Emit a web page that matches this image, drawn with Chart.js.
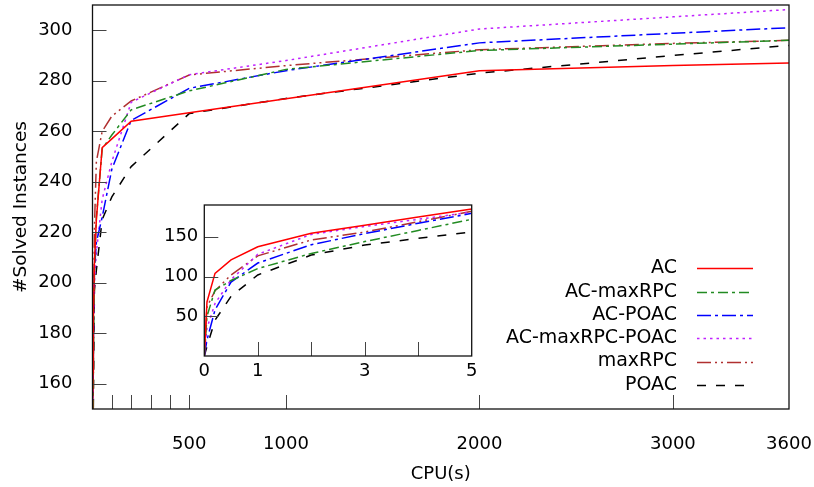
<!DOCTYPE html>
<html><head><meta charset="utf-8">
<script src="https://cdn.jsdelivr.net/npm/chart.js@4.4.1/dist/chart.umd.min.js"></script>
<style>
html,body{margin:0;padding:0;background:#fff;}
#wrap{position:relative;width:814px;height:487px;overflow:hidden;}
#main{position:absolute;left:0;top:0;}
#inset{position:absolute;left:150px;top:195px;}
</style></head><body>
<div id="wrap"><canvas id="main" width="814" height="487"></canvas><canvas id="inset" width="330" height="195"></canvas></div>
<script>
// ---- data ----
const times = [0, 0.05, 0.2, 0.5, 1, 2, 3, 4, 5, 10, 20, 50, 100, 200, 500, 1000, 2000, 3000, 3600];
const seriesNames = ['AC', 'AC-maxRPC', 'AC-POAC', 'AC-maxRPC-POAC', 'maxRPC', 'POAC'];
const AC            = [0, 68, 104, 121, 137.5, 154.5, 164.6, 175, 185, 208, 225, 253.5, 257, 264, 267.3, 272.9, 284, 286, 287];
const AC_maxRPC     = [0, 50, 83, 95, 110, 129, 144, 158, 172, 205, 226, 253, 258.5, 268.5, 276, 284.5, 292, 294.5, 296];
const AC_POAC       = [0, 20, 58, 93, 117, 140, 154, 167, 179.5, 205, 216, 226, 245, 264.3, 277, 284, 295, 298.8, 301];
const AC_maxRPC_POAC= [0, 35, 66, 96, 128, 153, 163, 172, 181, 200, 212, 233, 248, 271.5, 282.4, 288, 300.5, 305.3, 308.2];
const maxRPC        = [0, 62, 82, 102, 126, 146, 156, 169, 182, 222, 248, 260, 266, 272, 282.3, 286, 292.3, 294.8, 296];
const POAC          = [0, 12, 45, 75, 102, 127, 139.6, 148, 156, 197, 205, 225, 234, 246, 267, 273, 283, 290, 294];
const seriesValues = [AC, AC_maxRPC, AC_POAC, AC_maxRPC_POAC, maxRPC, POAC];

const mainXTicks = [100, 200, 300, 400, 500, 1000, 2000, 3000, 3600];
const mainXLabels = [500, 1000, 2000, 3000, 3600];
const mainYTicks = [160, 180, 200, 220, 240, 260, 280, 300];
const insetXTicks = [0, 1, 2, 3, 4, 5];
const insetXLabels = [0, 1, 3, 5];
const insetYTicks = [50, 100, 150];

// ---- styles ----
const colors = ['#ff0000', '#228b22', '#0000ff', '#c020ff', '#b03030', '#000000'];
const dashes = [[], [10, 4, 3, 4], [14, 4, 3, 4], [2.5, 4], [14, 4, 2, 4, 2, 4], [9, 10]];
const FONT = 'DejaVu Sans';
Chart.defaults.font.family = FONT;
Chart.defaults.color = '#000';

function makeDatasets() {
  return seriesNames.map((name, i) => ({
    label: name,
    data: times.map((t, k) => ({x: t, y: seriesValues[i][k]})),
    borderColor: colors[i],
    backgroundColor: colors[i],
    borderDash: dashes[i],
    borderWidth: 1.5,
    pointRadius: 0,
    tension: 0,
    fill: false
  }));
}

function frameAndTicks(xTicks, yTicks, xSkip, tickLen) {
  return {
    id: 'frameTicks',
    afterDatasetsDraw(chart) {
      const {ctx, chartArea: {left, right, top, bottom}, scales: {x, y}} = chart;
      ctx.save();
      ctx.strokeStyle = '#444';
      ctx.lineWidth = 1;
      ctx.setLineDash([]);
      xTicks.forEach(v => {
        if (xSkip(v)) return;
        const px = Math.round(x.getPixelForValue(v)) + 0.5;
        ctx.beginPath(); ctx.moveTo(px, bottom); ctx.lineTo(px, bottom - tickLen); ctx.stroke();
      });
      yTicks.forEach(v => {
        const py = Math.round(y.getPixelForValue(v)) + 0.5;
        ctx.beginPath(); ctx.moveTo(left, py); ctx.lineTo(left + tickLen, py); ctx.stroke();
      });
      ctx.strokeStyle = '#111';
      ctx.lineWidth = 1.3;
      ctx.strokeRect(left, top, right - left, bottom - top);
      ctx.restore();
    }
  };
}

const legendPlugin = {
  id: 'rightLegend',
  afterDraw(chart) {
    const ctx = chart.ctx;
    ctx.save();
    ctx.font = '19px "' + FONT + '"';
    ctx.textAlign = 'right';
    ctx.textBaseline = 'middle';
    chart.data.datasets.forEach((ds, i) => {
      const yy = 268.3 + i * 23.3;
      ctx.fillStyle = '#000';
      ctx.fillText(ds.label, 677, yy);
      ctx.strokeStyle = ds.borderColor;
      ctx.lineWidth = ds.borderWidth;
      ctx.setLineDash(ds.borderDash);
      ctx.beginPath(); ctx.moveTo(697, Math.round(yy) + 0.5); ctx.lineTo(753, Math.round(yy) + 0.5); ctx.stroke();
    });
    ctx.restore();
  }
};

function fixX(h) { return s => { s.height = h; s.paddingLeft = 0; s.paddingRight = 0; s.paddingTop = 0; s.paddingBottom = 0; }; }
function fixY(w) { return s => { s.width = w; s.paddingLeft = 0; s.paddingRight = 0; s.paddingTop = 0; s.paddingBottom = 0; }; }

new Chart(document.getElementById('main'), {
  type: 'line',
  data: {datasets: makeDatasets()},
  options: {
    responsive: false, animation: false, devicePixelRatio: 1,
    layout: {padding: {top: 5, right: 25, left: 0, bottom: 0}},
    plugins: {legend: {display: false}, tooltip: {enabled: false}},
    scales: {
      x: {
        type: 'linear', min: 0, max: 3600,
        grid: {display: false, drawTicks: false},
        border: {display: false},
        afterBuildTicks: s => { s.ticks = mainXTicks.map(v => ({value: v})); },
        ticks: {autoSkip: false, maxRotation: 0, padding: 25, color: '#000', font: {size: 18},
                callback: v => mainXLabels.includes(v) ? String(v) : ''},
        title: {display: true, text: 'CPU(s)', color: '#000', font: {size: 18}, padding: {top: 0, bottom: 2}},
        afterFit: fixX(78)
      },
      y: {
        type: 'linear', min: 150, max: 310,
        grid: {display: false, drawTicks: false},
        border: {display: false},
        afterBuildTicks: s => { s.ticks = mainYTicks.map(v => ({value: v})); },
        ticks: {autoSkip: false, padding: 20, color: '#000', font: {size: 18}},
        title: {display: true, text: '#Solved Instances', color: '#000', font: {size: 18.5}, padding: {top: 10, bottom: 0}},
        afterFit: fixY(92.5)
      }
    }
  },
  plugins: [frameAndTicks(mainXTicks, mainYTicks, v => v >= 3600, 14), legendPlugin]
});

new Chart(document.getElementById('inset'), {
  type: 'line',
  data: {datasets: makeDatasets()},
  options: {
    responsive: false, animation: false, devicePixelRatio: 1,
    layout: {padding: {top: 10, right: 8.3, left: 0, bottom: 0}},
    plugins: {legend: {display: false}, tooltip: {enabled: false}},
    scales: {
      x: {
        type: 'linear', min: 0, max: 5,
        grid: {display: false, drawTicks: false},
        border: {display: false},
        afterBuildTicks: s => { s.ticks = insetXTicks.map(v => ({value: v})); },
        ticks: {autoSkip: false, maxRotation: 0, padding: 5, color: '#000', font: {size: 18},
                callback: v => insetXLabels.includes(v) ? String(v) : ''},
        afterFit: fixX(34)
      },
      y: {
        type: 'linear', min: 0, max: 190,
        grid: {display: false, drawTicks: false},
        border: {display: false},
        afterBuildTicks: s => { s.ticks = insetYTicks.map(v => ({value: v})); },
        ticks: {autoSkip: false, padding: 6, color: '#000', font: {size: 18}},
        afterFit: fixY(54.3)
      }
    }
  },
  plugins: [frameAndTicks(insetXTicks, insetYTicks, v => v <= 0 || v >= 5, 14)]
});
</script>
</body></html>
